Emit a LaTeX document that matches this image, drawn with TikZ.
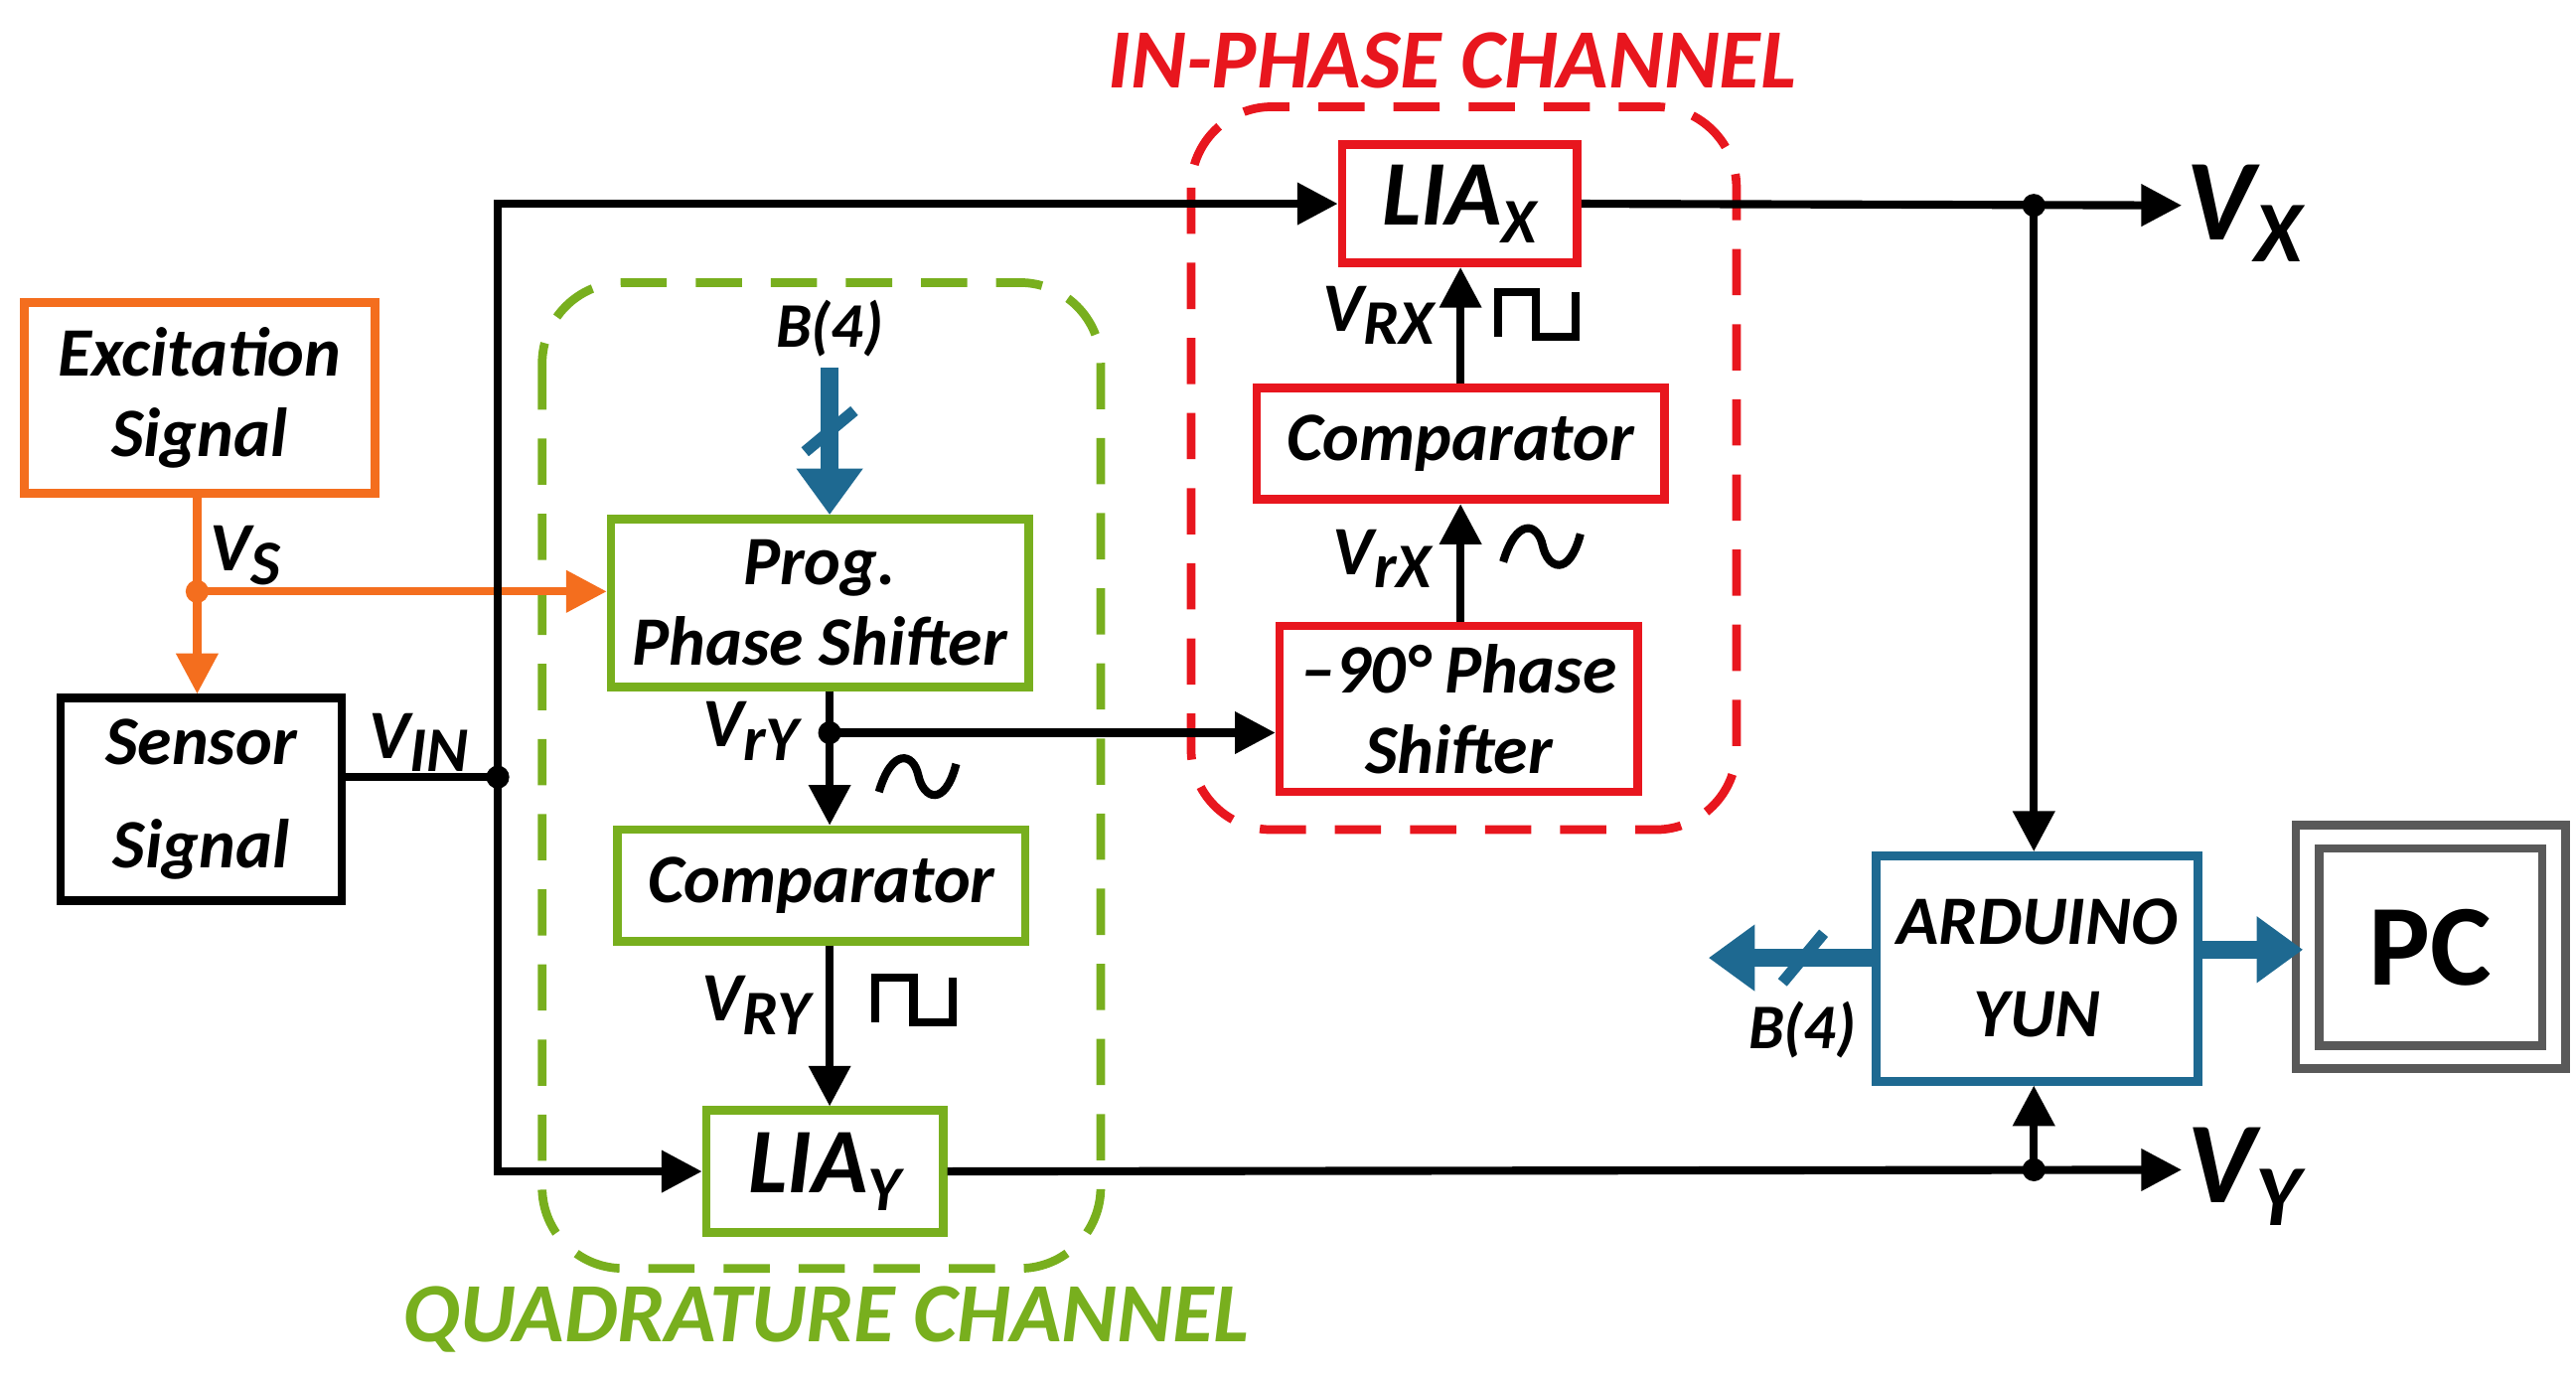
\documentclass[tikz,border=0pt]{standalone}
\usepackage{fontspec}
\setmainfont{Carlito}
\usetikzlibrary{arrows.meta}
\definecolor{cor}{RGB}{244,110,30}
\definecolor{cgr}{RGB}{120,175,30}
\definecolor{cre}{RGB}{232,22,30}
\definecolor{cbl}{RGB}{30,105,145}
\newcommand\lsub[1]{\raisebox{-0.4ex}{\fontsize{11}{11}\selectfont #1}}
\begin{document}
\begin{tikzpicture}[x=0.01cm,y=-0.01cm,
  txt/.style={font=\fontsize{12}{14}\selectfont\bfseries\itshape},
  box/.style={draw,line width=1.5pt,inner sep=0pt,align=center,txt},
  ln/.style={line width=1.4pt},
  arr/.style={ln,-{Triangle[length=7pt,width=7pt]}},
  barr/.style={line width=3pt,cbl,-{Triangle[length=8pt,width=11pt]}},
  lbl/.style={txt,inner sep=0pt}]
\useasboundingbox (0,0) rectangle (1568,840);
% group boxes
\draw[cgr,line width=1.5pt,dash pattern=on 8pt off 5pt,rounded corners=14pt] (330,172) rectangle (670,772);
\draw[cre,line width=1.5pt,dash pattern=on 8pt off 5pt,rounded corners=14pt] (725,65) rectangle (1057,505);
\node[lbl,cgr,font=\fontsize{14.6}{16}\selectfont\bfseries\itshape] (qc) at (503,803) {QUADRATURE CHANNEL};
\node[lbl,cre,font=\fontsize{14.6}{16}\selectfont\bfseries\itshape] (ic) at (884,37) {IN-PHASE CHANNEL};
% boxes
\node[box,cor,text=black,minimum width=2.13cm,minimum height=1.16cm] (exc) at (121.5,242) {Excitation\\Signal};
\node[box,minimum width=1.71cm,minimum height=1.23cm] (sen) at (122.5,486.5) {Sensor\\[4pt]Signal};
\node[box,cgr,text=black,minimum width=2.54cm,minimum height=1.02cm] (pps) at (499,367) {Prog.\\Phase Shifter};
\node[box,cgr,text=black,minimum width=2.48cm,minimum height=0.68cm] (cmy) at (500,539) {Comparator};
\node[box,cgr,text=black,minimum width=1.44cm,minimum height=0.74cm,font=\fontsize{16}{18}\selectfont\bfseries\itshape] (liay) at (502,713) {LIA\lsub{Y}};
\node[box,cre,text=black,minimum width=1.43cm,minimum height=0.72cm,font=\fontsize{16}{18}\selectfont\bfseries\itshape] (liax) at (888.5,124) {LIA\lsub{X}};
\node[box,cre,text=black,minimum width=2.48cm,minimum height=0.68cm] (cmx) at (889,270) {Comparator};
\node[box,cre,text=black,minimum width=2.18cm,minimum height=1.01cm] (ps90) at (888,431.5) {–90° Phase\\Shifter};
\node[box,cbl,text=black,minimum width=1.96cm,minimum height=1.37cm] (ard) at (1240,589.5) {ARDUINO\\[2pt]YUN};
\node[draw=gray!70!black,double=white,double distance=2.5pt,line width=1.5pt,minimum width=1.50cm,minimum height=1.34cm,font=\fontsize{20}{22}\selectfont\bfseries] (pc) at (1479.5,576.5) {PC};
% coordinates
\coordinate (ds) at (120,360);
\coordinate (din) at (303,473);
\coordinate (dry) at (505,446);
\coordinate (dx) at (1238,125);
\coordinate (dy) at (1238,712);
\coordinate (vx) at (1328,125);
\coordinate (vy) at (1328,712);
\coordinate (bt) at (505,224);
\coordinate (bl) at (1040,583);
% orange
\draw[ln,cor] (exc.south -| ds) -- (ds);
\draw[arr,cor] (ds) -- (sen.north -| ds);
\draw[arr,cor] (ds) -- (pps.west |- ds);
\fill[cor] (ds) circle (7);
% black
\draw[ln] (sen.east |- din) -- (din);
\draw[arr] (din) |- (liax.west);
\draw[arr] (din) |- (liay.west);
\fill (din) circle (7);
\draw[ln] (pps.south -| dry) -- (dry);
\draw[arr] (dry) -- (cmy.north -| dry);
\draw[arr] (dry) -- (ps90.west |- dry);
\fill (dry) circle (7);
\draw[arr] (cmy.south -| dry) -- (liay.north -| dry);
\draw[arr] (ps90.north -| cmx.south) -- (cmx.south);
\draw[arr] (cmx.north) -- (liax.south -| cmx.north);
\draw[arr] (liax.east) -- (vx);
\draw[arr] (liay.east) -- (vy);
\draw[arr] (dx) -- (ard.north -| dx);
\draw[arr] (dy) -- (ard.south -| dy);
\fill (dx) circle (7); \fill (dy) circle (7);
% blue
\draw[barr] (bt) -- (pps.north -| bt);
\draw[line width=2pt,cbl] (490,275) -- (520,250);
\draw[barr] (ard.west |- bl) -- (bl);
\draw[line width=2pt,cbl] (1085,598) -- (1110,568);
\draw[barr] (ard.east |- 0,578) -- (pc.west |- 0,578);
% labels
\node[lbl] (lb1) at (505,200) {\fontsize{11}{11}\selectfont B(4)};
\node[lbl] (lb2) at (1097,627) {\fontsize{11}{11}\selectfont B(4)};
\node[lbl,anchor=west] (lvs) at (127,338) {V\lsub{S}};
\node[lbl,anchor=west] (lvin) at (224,452) {V\lsub{IN}};
\node[lbl,anchor=east] (lvry) at (487,445) {V\lsub{rY}};
\node[lbl,anchor=east] (lvRy) at (494,612) {V\lsub{RY}};
\node[lbl,anchor=east] (lvrx) at (872,340) {V\lsub{rX}};
\node[lbl,anchor=east] (lvRx) at (874,192) {V\lsub{RX}};
\node[lbl,font=\fontsize{20}{22}\selectfont\bfseries\itshape] (lvx) at (1366,130) {V\lsub{\fontsize{15}{15}\selectfont X}};
\node[lbl,font=\fontsize{20}{22}\selectfont\bfseries\itshape] (lvy) at (1366,716) {V\lsub{\fontsize{15}{15}\selectfont Y}};
% waves
\draw[line width=1.4pt] (535,482) .. controls (543,455) and (556,458) .. (559,472) .. controls (562,486) and (575,492) .. (582,465);
\draw[line width=1.4pt] (915,342) .. controls (923,315) and (936,318) .. (939,332) .. controls (942,346) and (955,352) .. (962,325);
\draw[line width=1.4pt] (533,622) -- (533,595) -- (556,595) -- (556,622) -- (580,622) -- (580,595);
\draw[line width=1.4pt] (912,205) -- (912,178) -- (935,178) -- (935,205) -- (959,205) -- (959,178);
\end{tikzpicture}
\end{document}
